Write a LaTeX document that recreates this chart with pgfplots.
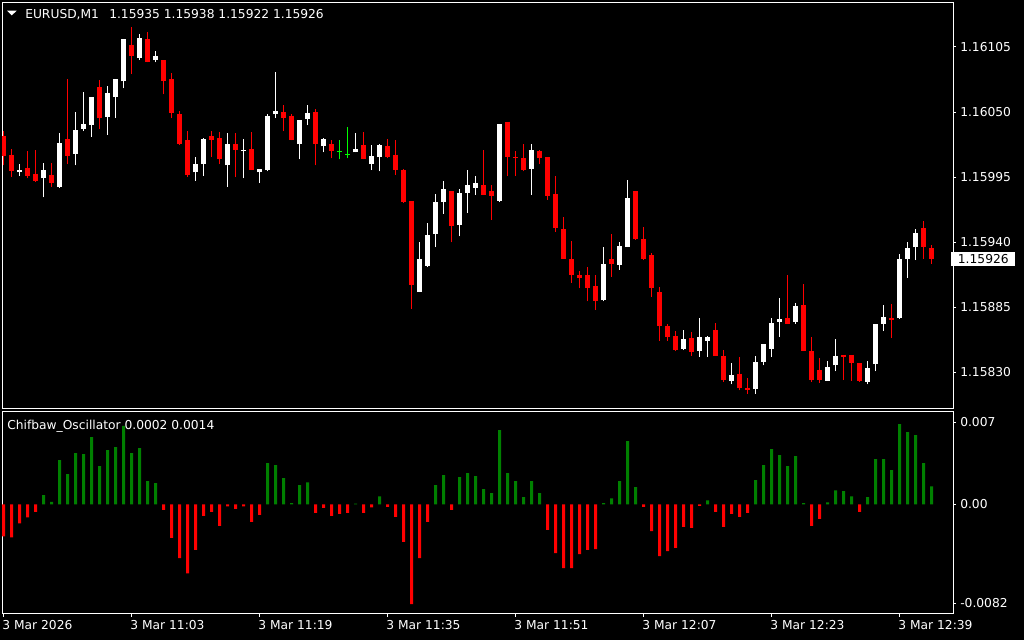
\documentclass[border=0pt]{standalone}
\usepackage{pgfplots}
\pgfplotsset{compat=1.18}
\usepackage{fontspec}
\setmainfont{DejaVu Sans}
\definecolor{mtgreen}{RGB}{0,128,0}
\definecolor{mtlime}{RGB}{0,255,0}
\newcommand{\mtfont}{\fontsize{9.2}{11}\selectfont}
\begin{document}
\begin{tikzpicture}
\fill[black] (0pt,0pt) rectangle (768pt,-480pt);
% ---------------- price panel ----------------
\begin{axis}[
  at={(1.5pt,-1.5pt)}, anchor=north west,
  scale only axis, width=713.25pt, height=304.5pt,
  xmin=-0.1875, xmax=118.6875, ymin=1.15800, ymax=1.16143,
  axis line style={white, line width=0.75pt},
  xtick=\empty,
  ytick={1.15830,1.15885,1.15940,1.15995,1.16050,1.16105},
  yticklabels={1.15830,1.15885,1.15940,1.15995,1.16050,1.16105},
  ytick pos=right, yticklabel pos=right,
  tick align=outside, major tick length=2.25pt,
  every tick/.style={white, line width=0.75pt},
  yticklabel style={text=white, font=\mtfont, anchor=west, inner sep=0pt, xshift=3pt},
  extra y ticks={1.15926}, extra y tick labels={1.15926},
  extra y tick style={major tick length=0pt, yticklabel style={fill=white, text=black, inner xsep=5pt, inner ysep=1.6pt, xshift=-4.5pt}},
  unbounded coords=jump, no markers, clip=true,
]
% bull wicks
\addplot[white, line width=0.75pt] coordinates {
(2,1.15996)(2,1.16006)(2,nan)(5,1.15978)(5,1.16007)(5,nan)(7,1.15986)(7,1.16032)(7,nan)
(9,1.16005)(9,1.16050)(9,nan)(10,1.16034)(10,1.16067)(10,nan)(11,1.16029)(11,1.16063)(11,nan)
(13,1.16031)(13,1.16072)(13,nan)(14,1.16045)(14,1.16078)(14,nan)(15,1.16070)(15,1.16112)(15,nan)
(17,1.16094)(17,1.16116)(17,nan)(19,1.16092)(19,1.16102)(19,nan)(24,1.15992)(24,1.16012)(24,nan)
(25,1.15996)(25,1.16028)(25,nan)(28,1.15987)(28,1.16032)(28,nan)(30,1.15994)(30,1.16027)(30,nan)
(32,1.15990)(32,1.16002)(32,nan)(33,1.16000)(33,1.16048)(33,nan)(34,1.16045)(34,1.16084)(34,nan)
(37,1.16010)(37,1.16043)(37,nan)(38,1.16039)(38,1.16056)(38,nan)(40,1.16016)(40,1.16028)(40,nan)
(44,1.16016)(44,1.16032)(44,nan)(46,1.16001)(46,1.16022)(46,nan)(47,1.16000)(47,1.16023)(47,nan)
(52,1.15898)(52,1.15940)(52,nan)(53,1.15919)(53,1.15956)(53,nan)(54,1.15936)(54,1.15981)(54,nan)
(55,1.15964)(55,1.15992)(55,nan)(57,1.15945)(57,1.15985)(57,nan)(58,1.15965)(58,1.16001)(58,nan)
(59,1.15980)(59,1.15996)(59,nan)(62,1.15974)(62,1.16040)(62,nan)(66,1.15980)(66,1.16023)(66,nan)
(75,1.15890)(75,1.15936)(75,nan)(77,1.15917)(77,1.15940)(77,nan)(78,1.15936)(78,1.15993)(78,nan)
(85,1.15849)(85,1.15866)(85,nan)(87,1.15843)(87,1.15876)(87,nan)(88,1.15843)(88,1.15861)(88,nan)
(91,1.15820)(91,1.15838)(91,nan)(94,1.15812)(94,1.15844)(94,nan)(95,1.15836)(95,1.15854)(95,nan)
(96,1.15843)(96,1.15876)(96,nan)(97,1.15860)(97,1.15893)(97,nan)(99,1.15871)(99,1.15889)(99,nan)
(103,1.15823)(103,1.15840)(103,nan)(104,1.15831)(104,1.15858)(104,nan)(108,1.15820)(108,1.15840)(108,nan)
(109,1.15831)(109,1.15871)(109,nan)(110,1.15865)(110,1.15887)(110,nan)(112,1.15875)(112,1.15930)(112,nan)
(113,1.15910)(113,1.15940)(113,nan)(114,1.15925)(114,1.15951)
};
% bear wicks
\addplot[red, line width=0.75pt] coordinates {
(0,1.16005)(0,1.16034)(0,nan)(1,1.15995)(1,1.16019)(1,nan)(3,1.15994)(3,1.16017)(3,nan)
(4,1.15991)(4,1.16018)(4,nan)(6,1.15987)(6,1.16007)(6,nan)(8,1.16006)(8,1.16078)(8,nan)
(12,1.16036)(12,1.16077)(12,nan)(16,1.16082)(16,1.16122)(16,nan)(18,1.16092)(18,1.16118)(18,nan)
(20,1.16065)(20,1.16094)(20,nan)(21,1.16045)(21,1.16083)(21,nan)(22,1.16022)(22,1.16051)(22,nan)
(23,1.15995)(23,1.16034)(23,nan)(26,1.16012)(26,1.16034)(26,nan)(27,1.16006)(27,1.16033)(27,nan)
(29,1.15995)(29,1.16032)(29,nan)(31,1.16001)(31,1.16033)(31,nan)(35,1.16034)(35,1.16056)(35,nan)
(36,1.16026)(36,1.16048)(36,nan)(39,1.16005)(39,1.16053)(39,nan)(41,1.16011)(41,1.16026)(41,nan)
(45,1.16010)(45,1.16033)(45,nan)(48,1.16011)(48,1.16027)(48,nan)(49,1.15997)(49,1.16026)(49,nan)
(50,1.15973)(50,1.16002)(50,nan)(51,1.15884)(51,1.15975)(51,nan)(56,1.15940)(56,1.15983)(56,nan)
(60,1.15980)(60,1.16018)(60,nan)(61,1.15959)(61,1.15988)(61,nan)(63,1.15996)(63,1.16042)(63,nan)
(64,1.15996)(64,1.16017)(64,nan)(65,1.16000)(65,1.16023)(65,nan)(67,1.16006)(67,1.16018)(67,nan)
(68,1.15976)(68,1.16012)(68,nan)(69,1.15949)(69,1.15996)(69,nan)(70,1.15926)(70,1.15961)(70,nan)
(71,1.15906)(71,1.15941)(71,nan)(72,1.15901)(72,1.15916)(72,nan)(73,1.15890)(73,1.15919)(73,nan)
(74,1.15883)(74,1.15912)(74,nan)(76,1.15911)(76,1.15947)(76,nan)(79,1.15942)(79,1.15983)(79,nan)
(80,1.15925)(80,1.15953)(80,nan)(81,1.15894)(81,1.15931)(81,nan)(82,1.15857)(82,1.15902)(82,nan)
(83,1.15857)(83,1.15871)(83,nan)(84,1.15848)(84,1.15865)(84,nan)(86,1.15844)(86,1.15864)(86,nan)
(89,1.15844)(89,1.15872)(89,nan)(90,1.15822)(90,1.15849)(90,nan)(92,1.15815)(92,1.15843)(92,nan)
(93,1.15812)(93,1.15825)(93,nan)(98,1.15871)(98,1.15912)(98,nan)(100,1.15848)(100,1.15905)(100,nan)
(101,1.15822)(101,1.15860)(101,nan)(102,1.15821)(102,1.15842)(102,nan)(105,1.15824)(105,1.15845)(105,nan)
(106,1.15823)(106,1.15845)(106,nan)(107,1.15822)(107,1.15838)(107,nan)(111,1.15859)(111,1.15888)(111,nan)
(115,1.15926)(115,1.15958)(115,nan)(116,1.15922)(116,1.15938)
};
% bull bodies (open -> close)
\addplot[white, line width=3.75pt, line cap=butt] coordinates {
(2,1.15999)(2,1.16001)(2,nan)(5,1.15994)(5,1.16001)(5,nan)(7,1.15987)(7,1.16024)(7,nan)
(9,1.16015)(9,1.16035)(9,nan)(10,1.16036)(10,1.16040)(10,nan)(11,1.16039)(11,1.16063)(11,nan)
(13,1.16046)(13,1.16066)(13,nan)(14,1.16063)(14,1.16078)(14,nan)(15,1.16076)(15,1.16112)(15,nan)
(17,1.16096)(17,1.16113)(17,nan)(19,1.16094)(19,1.16097)(19,nan)(24,1.15999)(24,1.16006)(24,nan)
(25,1.16006)(25,1.16027)(25,nan)(28,1.16005)(28,1.16023)(28,nan)(30,1.16017)(30,1.16018)(30,nan)
(32,1.15999)(32,1.16002)(32,nan)(33,1.16001)(33,1.16047)(33,nan)(34,1.16048)(34,1.16051)(34,nan)
(37,1.16023)(37,1.16043)(37,nan)(38,1.16044)(38,1.16049)(38,nan)(40,1.16021)(40,1.16027)(40,nan)
(44,1.16016)(44,1.16019)(44,nan)(46,1.16006)(46,1.16013)(46,nan)(47,1.16012)(47,1.16022)(47,nan)
(52,1.15898)(52,1.15926)(52,nan)(53,1.15920)(53,1.15946)(53,nan)(54,1.15947)(54,1.15974)(54,nan)
(55,1.15974)(55,1.15985)(55,nan)(57,1.15955)(57,1.15982)(57,nan)(58,1.15982)(58,1.15988)(58,nan)
(59,1.15986)(59,1.15990)(59,nan)(62,1.15975)(62,1.16040)(62,nan)(66,1.16002)(66,1.16018)(66,nan)
(75,1.15891)(75,1.15922)(75,nan)(77,1.15921)(77,1.15937)(77,nan)(78,1.15936)(78,1.15977)(78,nan)
(85,1.15850)(85,1.15858)(85,nan)(87,1.15848)(87,1.15860)(87,nan)(88,1.15857)(88,1.15860)(88,nan)
(91,1.15823)(91,1.15828)(91,nan)(94,1.15816)(94,1.15839)(94,nan)(95,1.15839)(95,1.15854)(95,nan)
(96,1.15850)(96,1.15872)(96,nan)(97,1.15873)(97,1.15875)(97,nan)(99,1.15873)(99,1.15886)(99,nan)
(103,1.15823)(103,1.15835)(103,nan)(104,1.15836)(104,1.15844)(104,nan)(108,1.15822)(108,1.15834)(108,nan)
(109,1.15837)(109,1.15871)(109,nan)(110,1.15871)(110,1.15877)(110,nan)(112,1.15876)(112,1.15926)(112,nan)
(113,1.15926)(113,1.15935)(113,nan)(114,1.15936)(114,1.15948)
};
% bear bodies (open -> close)
\addplot[red, line width=3.75pt, line cap=butt] coordinates {
(0,1.16030)(0,1.16013)(0,nan)(1,1.16014)(1,1.16000)(1,nan)(3,1.16003)(3,1.15996)(3,nan)
(4,1.15998)(4,1.15992)(4,nan)(6,1.15997)(6,1.15990)(6,nan)(8,1.16027)(8,1.16013)(8,nan)
(12,1.16071)(12,1.16045)(12,nan)(16,1.16107)(16,1.16097)(16,nan)(18,1.16112)(18,1.16092)(18,nan)
(20,1.16094)(20,1.16076)(20,nan)(21,1.16078)(21,1.16049)(21,nan)(22,1.16048)(22,1.16023)(22,nan)
(23,1.16026)(23,1.15997)(23,nan)(26,1.16030)(26,1.16026)(26,nan)(27,1.16028)(27,1.16010)(27,nan)
(29,1.16023)(29,1.16018)(29,nan)(31,1.16019)(31,1.16001)(31,nan)(35,1.16050)(35,1.16045)(35,nan)
(36,1.16047)(36,1.16026)(36,nan)(39,1.16050)(39,1.16023)(39,nan)(41,1.16023)(41,1.16017)(41,nan)
(45,1.16022)(45,1.16010)(45,nan)(48,1.16021)(48,1.16012)(48,nan)(49,1.16014)(49,1.16001)(49,nan)
(50,1.16001)(50,1.15974)(50,nan)(51,1.15975)(51,1.15904)(51,nan)(56,1.15983)(56,1.15954)(56,nan)
(60,1.15988)(60,1.15980)(60,nan)(61,1.15983)(61,1.15979)(61,nan)(63,1.16042)(63,1.16012)(63,nan)
(64,1.16012)(64,1.16011)(64,nan)(65,1.16011)(65,1.16001)(65,nan)(67,1.16017)(67,1.16011)(67,nan)
(68,1.16012)(68,1.15979)(68,nan)(69,1.15981)(69,1.15952)(69,nan)(70,1.15951)(70,1.15926)(70,nan)
(71,1.15926)(71,1.15912)(71,nan)(72,1.15912)(72,1.15910)(72,nan)(73,1.15912)(73,1.15901)(73,nan)
(74,1.15903)(74,1.15890)(74,nan)(76,1.15926)(76,1.15922)(76,nan)(79,1.15983)(79,1.15943)(79,nan)
(80,1.15943)(80,1.15926)(80,nan)(81,1.15929)(81,1.15901)(81,nan)(82,1.15898)(82,1.15869)(82,nan)
(83,1.15869)(83,1.15860)(83,nan)(84,1.15861)(84,1.15849)(84,nan)(86,1.15859)(86,1.15847)(86,nan)
(89,1.15866)(89,1.15844)(89,nan)(90,1.15844)(90,1.15824)(90,nan)(92,1.15829)(92,1.15817)(92,nan)
(93,1.15817)(93,1.15815)(93,nan)(98,1.15876)(98,1.15871)(98,nan)(100,1.15887)(100,1.15848)(100,nan)
(101,1.15848)(101,1.15824)(101,nan)(102,1.15832)(102,1.15824)(102,nan)(105,1.15845)(105,1.15843)(105,nan)
(106,1.15845)(106,1.15838)(106,nan)(107,1.15838)(107,1.15823)(107,nan)(111,1.15876)(111,1.15874)(111,nan)
(115,1.15952)(115,1.15936)(115,nan)(116,1.15935)(116,1.15926)
};
% doji candles
\addplot[mtlime, line width=0.75pt] coordinates {
(42,1.16010)(42,1.16026)(42,nan)(41.69,1.16017)(42.31,1.16017)(42.31,nan)
(43,1.16011)(43,1.16037)(43,nan)(42.69,1.16014)(43.31,1.16014)
};
\end{axis}
% ---------------- oscillator panel ----------------
\begin{axis}[
  at={(1.5pt,-308.25pt)}, anchor=north west,
  scale only axis, width=713.25pt, height=151.875pt,
  xmin=-0.1875, xmax=118.6875, ymin=-0.0082, ymax=0.007,
  axis line style={white, line width=0.75pt},
  xtick={0,16,32,48,64,80,96,112},
  xticklabels={3 Mar 2026,3 Mar 11:03,3 Mar 11:19,3 Mar 11:35,3 Mar 11:51,3 Mar 12:07,3 Mar 12:23,3 Mar 12:39},
  xtick pos=left, xticklabel pos=left,
  ytick={-0.00745,0,0.00617}, yticklabels={-0.0082,0.00,0.007},
  ytick pos=right, yticklabel pos=right,
  scaled y ticks=false,
  tick align=outside, major tick length=2.25pt,
  every tick/.style={white, line width=0.75pt},
  yticklabel style={text=white, font=\mtfont, anchor=west, inner sep=0pt, xshift=3pt},
  xticklabel style={text=white, font=\mtfont, anchor=north west, inner sep=0pt, xshift=-1pt, yshift=-3pt},
  clip=true,
]
\addplot[ybar, bar width=2.25pt, bar shift=0pt, fill=mtgreen, draw=none] table {
x y
5 0.00068
6 0.00018
7 0.00331
8 0.00226
9 0.00384
10 0.00376
11 0.00504
12 0.00286
13 0.00406
14 0.00429
15 0.00589
16 0.00384
17 0.00421
18 0.00173
19 0.00158
33 0.00308
34 0.00293
35 0.00196
36 0.00008
37 0.00143
38 0.00165
44 0.00005
47 0.00060
54 0.00143
55 0.00218
57 0.00203
58 0.00233
59 0.00211
60 0.00113
61 0.00083
62 0.00557
63 0.00233
64 0.00173
65 0.00053
66 0.00173
67 0.00083
75 0.00008
76 0.00045
77 0.00173
78 0.00474
79 0.00128
88 0.00030
94 0.00181
95 0.00293
96 0.00414
97 0.00369
98 0.00286
99 0.00361
100 0.00008
103 0.00015
104 0.00105
105 0.00098
106 0.00060
108 0.00053
109 0.00338
110 0.00338
111 0.00256
112 0.00602
113 0.00542
114 0.00519
115 0.00308
116 0.00135
};
\addplot[ybar, bar width=2.25pt, bar shift=0pt, fill=red, draw=none] table {
x y
0 -0.00241
1 -0.00248
2 -0.00143
3 -0.00098
4 -0.00058
20 -0.00043
21 -0.00253
22 -0.00404
23 -0.00519
24 -0.00343
25 -0.00088
26 -0.00058
27 -0.00163
28 -0.00015
29 -0.00035
30 -0.00015
31 -0.00133
32 -0.00080
39 -0.00065
40 -0.00028
41 -0.00088
42 -0.00073
43 -0.00065
45 -0.00065
46 -0.00023
48 -0.00020
49 -0.00095
50 -0.00283
51 -0.00750
52 -0.00404
53 -0.00133
56 -0.00043
68 -0.00193
69 -0.00366
70 -0.00479
71 -0.00479
72 -0.00374
73 -0.00343
74 -0.00336
80 -0.00020
81 -0.00201
82 -0.00389
83 -0.00351
84 -0.00328
85 -0.00170
86 -0.00178
87 -0.00013
89 -0.00058
90 -0.00170
91 -0.00073
92 -0.00095
93 -0.00065
101 -0.00163
102 -0.00110
107 -0.00058
};
\end{axis}
% ---------------- header texts ----------------
\fill[white] (5.25pt,-8pt) -- (12.5pt,-8pt) -- (8.875pt,-11.5pt) -- cycle;
\node[anchor=base west, inner sep=0pt, text=white, font=\mtfont] at (18.75pt,-13.75pt) {EURUSD,M1};
\node[anchor=base west, inner sep=0pt, text=white, font=\mtfont] at (81.75pt,-13.75pt) {1.15935 1.15938 1.15922 1.15926};
\node[anchor=base west, inner sep=0pt, text=white, font=\mtfont] at (5.25pt,-321.75pt) {Chifbaw\_Oscillator 0.0002 0.0014};
\end{tikzpicture}
\end{document}
